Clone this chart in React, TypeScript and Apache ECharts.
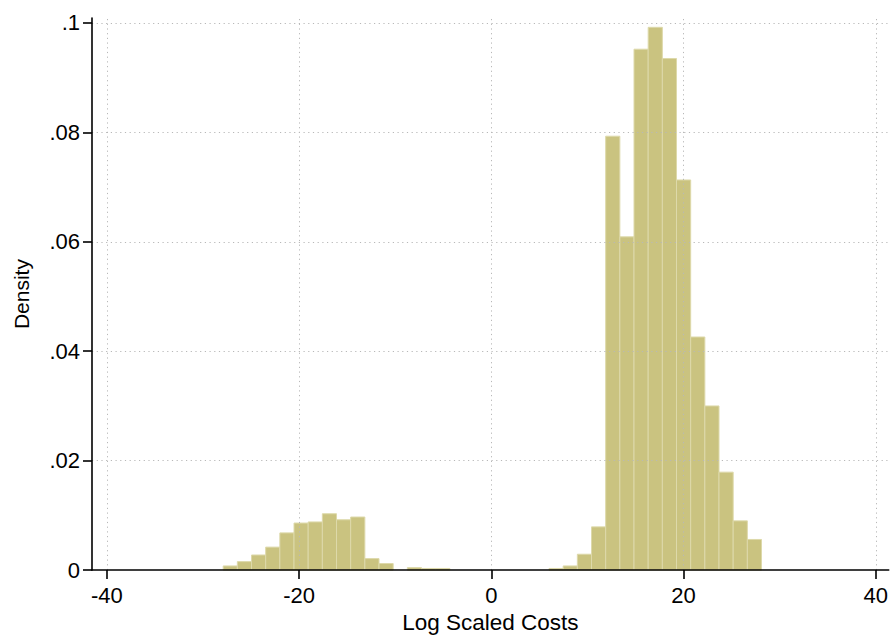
import React, { useEffect, useRef } from "react";
import * as echarts from "echarts";

// Histogram bins (Stata-style density histogram)
const binStart = -27.9;
const binWidth = 1.474;
const densities = [
  0.00076, 0.00155, 0.00276, 0.0042, 0.0068, 0.0086, 0.0088, 0.0103, 0.0092, 0.0097,
  0.0021, 0.0012, 0, 0.00045, 0.0003, 0.0003, 0, 0, 0, 0,
  0, 0, 0, 0.0003, 0.00076, 0.0029, 0.0079, 0.0793, 0.0609, 0.0952,
  0.0992, 0.0935, 0.0713, 0.0426, 0.03, 0.0179, 0.009, 0.0056,
];
const xTicks = [-40, -20, 0, 20, 40];
const yTicks = [0, 0.02, 0.04, 0.06, 0.08, 0.1];
const xTitle = "Log Scaled Costs";
const yTitle = "Density";

const FONT = "'Liberation Sans', Arial, sans-serif";

function fmtY(v: number): string {
  if (v === 0) return "0";
  const s = String(Math.round(v * 1000) / 1000);
  return s.replace(/^0\./, ".");
}

export default function App() {
  const ref = useRef<HTMLDivElement>(null);
  useEffect(() => {
    if (!ref.current) return;
    const chart = echarts.init(ref.current, undefined, { renderer: "svg" });
    const data = densities.map((d, i) => [
      binStart + i * binWidth,
      binStart + (i + 1) * binWidth,
      d,
    ]);
    const axisLine = { show: true, onZero: false, lineStyle: { color: "#000", width: 1.6 } };
    const axisTickCommon = { show: true, length: 9, lineStyle: { color: "#000", width: 1.6 } };
    chart.setOption({
      animation: false,
      backgroundColor: "#fff",
      textStyle: { fontFamily: FONT },
      grid: { left: 92, right: 0, top: 18, bottom: 66.5, containLabel: false },
      xAxis: {
        type: "value",
        min: -41.55,
        max: 41.35,
        z: 10,
        axisLine,
        axisTick: { ...axisTickCommon, customValues: xTicks },
        axisLabel: {
          customValues: xTicks,
          color: "#000",
          fontSize: 22,
          fontFamily: FONT,
          margin: 14,
        },
        splitLine: { show: false },
        name: xTitle,
        nameLocation: "middle",
        nameGap: 37,
        nameTextStyle: { color: "#000", fontSize: 22.5, fontFamily: FONT },
      },
      yAxis: {
        type: "value",
        min: 0,
        max: 0.1009,
        z: 10,
        axisLine,
        axisTick: { ...axisTickCommon, customValues: yTicks },
        axisLabel: {
          customValues: yTicks,
          color: "#000",
          fontSize: 22,
          fontFamily: FONT,
          margin: 12,
          formatter: (v: number) => fmtY(v),
        },
        splitLine: { show: false },
        name: yTitle,
        nameLocation: "middle",
        nameGap: 60,
        nameRotate: 90,
        nameTextStyle: { color: "#000", fontSize: 21, fontFamily: FONT },
      },
      series: [
        {
          type: "line",
          z: 1,
          data: [[-40, 0]],
          symbol: "none",
          lineStyle: { opacity: 0 },
          silent: true,
          markLine: {
            silent: true,
            symbol: "none",
            label: { show: false },
            lineStyle: { type: [1.2, 3.5], color: "#b8b8b8", width: 1 },
            data: [
              ...xTicks.map((v) => ({ xAxis: v })),
              ...yTicks.filter((v) => v > 0).map((v) => ({ yAxis: v })),
            ],
          },
        },
        {
          type: "custom",
          z: 2,
          data,
          renderItem: (params: any, api: any) => {
            const h = api.value(2);
            if (!h) return null;
            const p0 = api.coord([api.value(0), h]);
            const p1 = api.coord([api.value(1), 0]);
            return {
              type: "rect",
              shape: { x: p0[0], y: p0[1], width: p1[0] - p0[0], height: p1[1] - p0[1] },
              style: { fill: "#cac380", stroke: "#ddd9aa", lineWidth: 1 },
            };
          },
        },
      ],
    });
    return () => chart.dispose();
  }, []);
  return (
    <div
      ref={ref}
      style={{ position: "fixed", left: 0, top: 0, width: 891, height: 639, background: "#fff" }}
    />
  );
}
